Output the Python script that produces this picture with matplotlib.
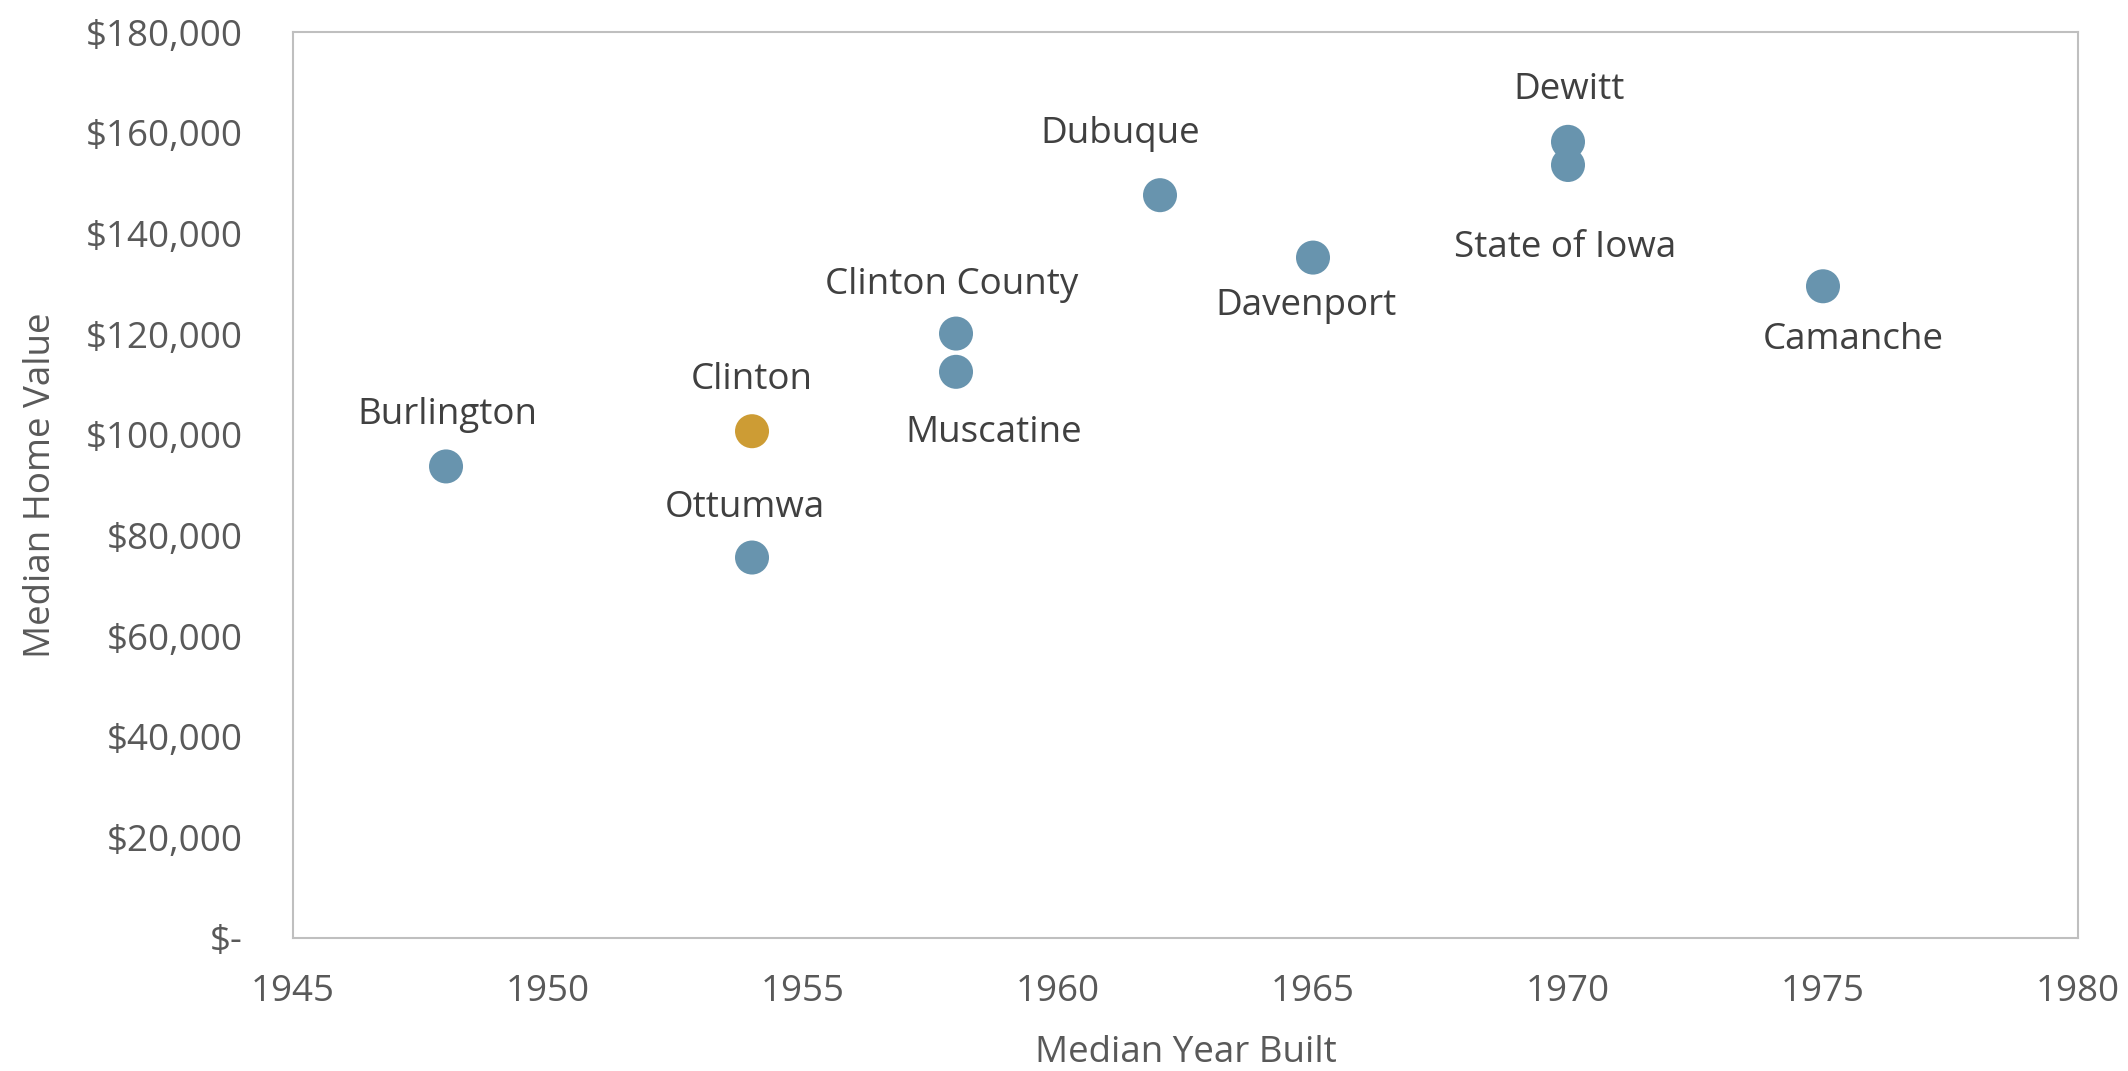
import matplotlib.pyplot as plt
from matplotlib.ticker import FuncFormatter, MultipleLocator

plt.rcParams['font.family'] = ['Open Sans', 'DejaVu Sans']

# Median year built vs median home value
places = ['Burlington', 'Clinton', 'Ottumwa', 'Clinton County', 'Muscatine',
          'Dubuque', 'Davenport', 'Dewitt', 'State of Iowa', 'Camanche']
year_built = [1948, 1954, 1954, 1958, 1958, 1962, 1965, 1970, 1970, 1975]
home_value = [93700, 100700, 75600, 120100, 112500, 147600, 135200, 158200, 153600, 129500]

# label offsets in points (dx, dy)
offsets = [(1, 37), (0, 37), (-5, 36), (-3, 35), (27, -44),
           (-29, 44), (-5, -35), (1, 37), (-2, -60), (22, -39)]

blue = '#6894ae'
gold = '#cd9c34'
colors = [gold if p == 'Clinton' else blue for p in places]

fs = 26.5

fig = plt.figure(figsize=(21.28, 10.71), dpi=100)
ax = fig.add_axes([0.1377, 0.1242, 0.8388, 0.8458])

ax.scatter(year_built, home_value, s=600, c=colors, linewidths=0, zorder=3)

for p, x, y, (dx, dy) in zip(places, year_built, home_value, offsets):
    ax.annotate(p, (x, y), xytext=(dx, dy), textcoords='offset points',
                ha='center', va='center', fontsize=fs, color='#404040')

ax.set_xlim(1945, 1980)
ax.set_ylim(0, 180000)
ax.xaxis.set_major_locator(MultipleLocator(5))
ax.yaxis.set_major_locator(MultipleLocator(20000))


def money(v, pos):
    if v == 0:
        return '$-'
    return '${:,.0f}'.format(v)


ax.yaxis.set_major_formatter(FuncFormatter(money))
ax.tick_params(length=0, labelsize=fs, labelcolor='#595959')
ax.tick_params(axis='y', pad=36)
ax.tick_params(axis='x', pad=26)

for s in ax.spines.values():
    s.set_color('#bfbfbf')
    s.set_linewidth(1.5)

ax.set_xlabel('Median Year Built', fontsize=fs, color='#595959')
ax.set_ylabel('Median Home Value', fontsize=fs, color='#595959')
ax.xaxis.set_label_coords(0.5, -0.107)
ax.yaxis.set_label_coords(-0.131, 0.5)

fig.savefig('out.png', dpi=100)
